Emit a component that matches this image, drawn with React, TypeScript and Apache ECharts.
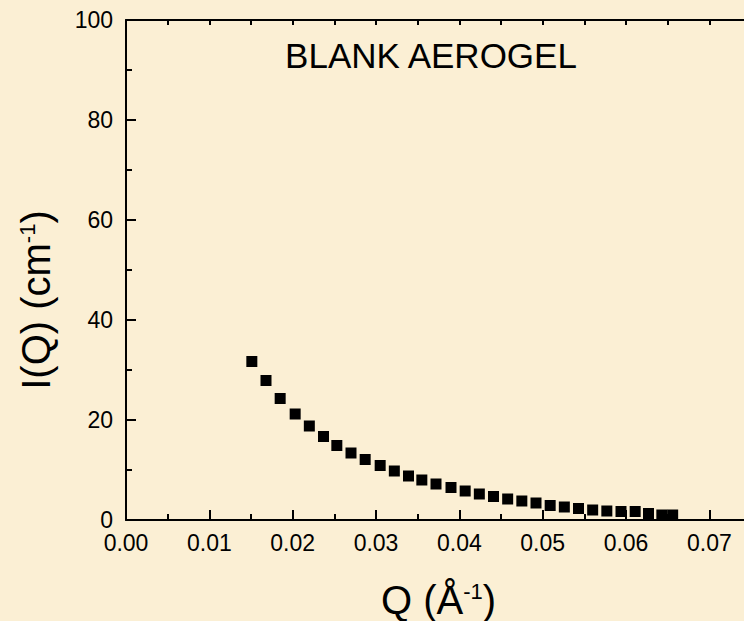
import React, { useEffect, useRef } from "react";
import * as echarts from "echarts";

const qValues = [
  0.0151, 0.0168, 0.0185, 0.0203, 0.0220, 0.0237, 0.0253, 0.0270, 0.0287, 0.0305,
  0.0322, 0.0339, 0.0355, 0.0372, 0.0390, 0.0407, 0.0424, 0.0441, 0.0458, 0.0475,
  0.0492, 0.0509, 0.0526, 0.0543, 0.0560, 0.0577, 0.0594, 0.0611, 0.0627, 0.0643,
  0.0656,
];
const intensityValues = [
  31.7, 27.9, 24.3, 21.2, 18.8, 16.7, 14.9, 13.4, 12.1, 10.9,
  9.8, 8.8, 8.0, 7.2, 6.5, 5.8, 5.2, 4.7, 4.2, 3.8,
  3.4, 2.9, 2.6, 2.3, 2.0, 1.8, 1.7, 1.7, 1.3, 1.0,
  1.0,
];
const xTickLabels = ["0.00", "0.01", "0.02", "0.03", "0.04", "0.05", "0.06", "0.07"];
const yTickLabels = ["0", "20", "40", "60", "80", "100"];
const sampleLabel = "BLANK AEROGEL";
const yTitle = "{n|I(Q) (cm}{s|-1}{n|)}";
const xTitle = "{n|Q (Å}{s|-1}{n|)}";

const FONT = "'Liberation Sans', Arial, Helvetica, sans-serif";
const BG = "#FBEFD4";

export default function App() {
  const ref = useRef<HTMLDivElement>(null);
  useEffect(() => {
    if (!ref.current) return;
    const chart = echarts.init(ref.current, null, { renderer: "svg" });
    const data = qValues.map((q, i) => [q, intensityValues[i]]);
    const axisLine = { show: true, lineStyle: { color: "#000", width: 2 } };
    const titleRich = {
      n: { fontSize: 40, fontFamily: FONT, color: "#000", fill: "#000" },
      s: { fontSize: 22, fontFamily: FONT, color: "#000", fill: "#000", verticalAlign: "top" },
    };
    chart.setOption({
      animation: false,
      backgroundColor: BG,
      textStyle: { fontFamily: FONT },
      grid: { left: 126, top: 20, width: 625, height: 500, outerBoundsMode: "none", containLabel: false },
      xAxis: [
        {
          type: "value",
          position: "bottom",
          min: 0,
          max: 0.075,
          interval: 0.01,
          axisLine,
          splitLine: { show: false },
          axisTick: { show: true, inside: true, length: 10, lineStyle: { color: "#000", width: 2 } },
          minorTick: { show: true, splitNumber: 2, length: 6, lineStyle: { color: "#000", width: 2 } },
          axisLabel: {
            color: "#000",
            fontSize: 23,
            lineHeight: 22,
            fontFamily: FONT,
            margin: 12,
            formatter: (v: number) => {
              const k = Math.round(v * 100);
              if (Math.abs(v * 100 - k) > 1e-6) return "";
              return xTickLabels[k] ?? "";
            },
          },
          name: xTitle,
          nameLocation: "middle",
          nameGap: 60,
          nameTextStyle: { rich: titleRich },
        },
        {
          type: "value",
          position: "top",
          min: 0,
          max: 0.075,
          interval: 0.005,
          axisLine,
          splitLine: { show: false },
          axisTick: { show: true, inside: true, length: 5, lineStyle: { color: "#000", width: 2 } },
          axisLabel: { show: false },
        },
      ],
      yAxis: [
        {
          type: "value",
          min: 0,
          max: 100,
          interval: 20,
          axisLine,
          splitLine: { show: false },
          axisTick: { show: true, inside: true, length: 10, lineStyle: { color: "#000", width: 2 } },
          minorTick: { show: true, splitNumber: 2, length: 6, lineStyle: { color: "#000", width: 2 } },
          axisLabel: {
            color: "#000",
            fontSize: 23,
            lineHeight: 17,
            fontFamily: FONT,
            margin: 13,
            formatter: (v: number) => yTickLabels[Math.round(v / 20)] ?? "",
          },
        },
      ],
      graphic: [
        {
          type: "text",
          x: 431,
          y: 55,
          style: {
            text: sampleLabel,
            fontSize: 35,
            fontFamily: FONT,
            fill: "#000",
            textAlign: "center",
            textVerticalAlign: "middle",
          },
        },
        {
          type: "text",
          x: 36,
          y: 300,
          rotation: Math.PI / 2,
          style: {
            text: yTitle,
            rich: titleRich,
            fontSize: 40,
            fontFamily: FONT,
            fill: "#000",
            textAlign: "center",
            textVerticalAlign: "middle",
          },
        },
      ],
      series: [
        {
          type: "scatter",
          xAxisIndex: 0,
          yAxisIndex: 0,
          data,
          symbol: "rect",
          symbolSize: 11,
          itemStyle: { color: "#000", opacity: 1 },
        },
      ],
    });
    return () => chart.dispose();
  }, []);
  return (
    <div
      ref={ref}
      style={{ position: "absolute", left: 0, top: 0, width: 744, height: 621, background: BG }}
    />
  );
}
